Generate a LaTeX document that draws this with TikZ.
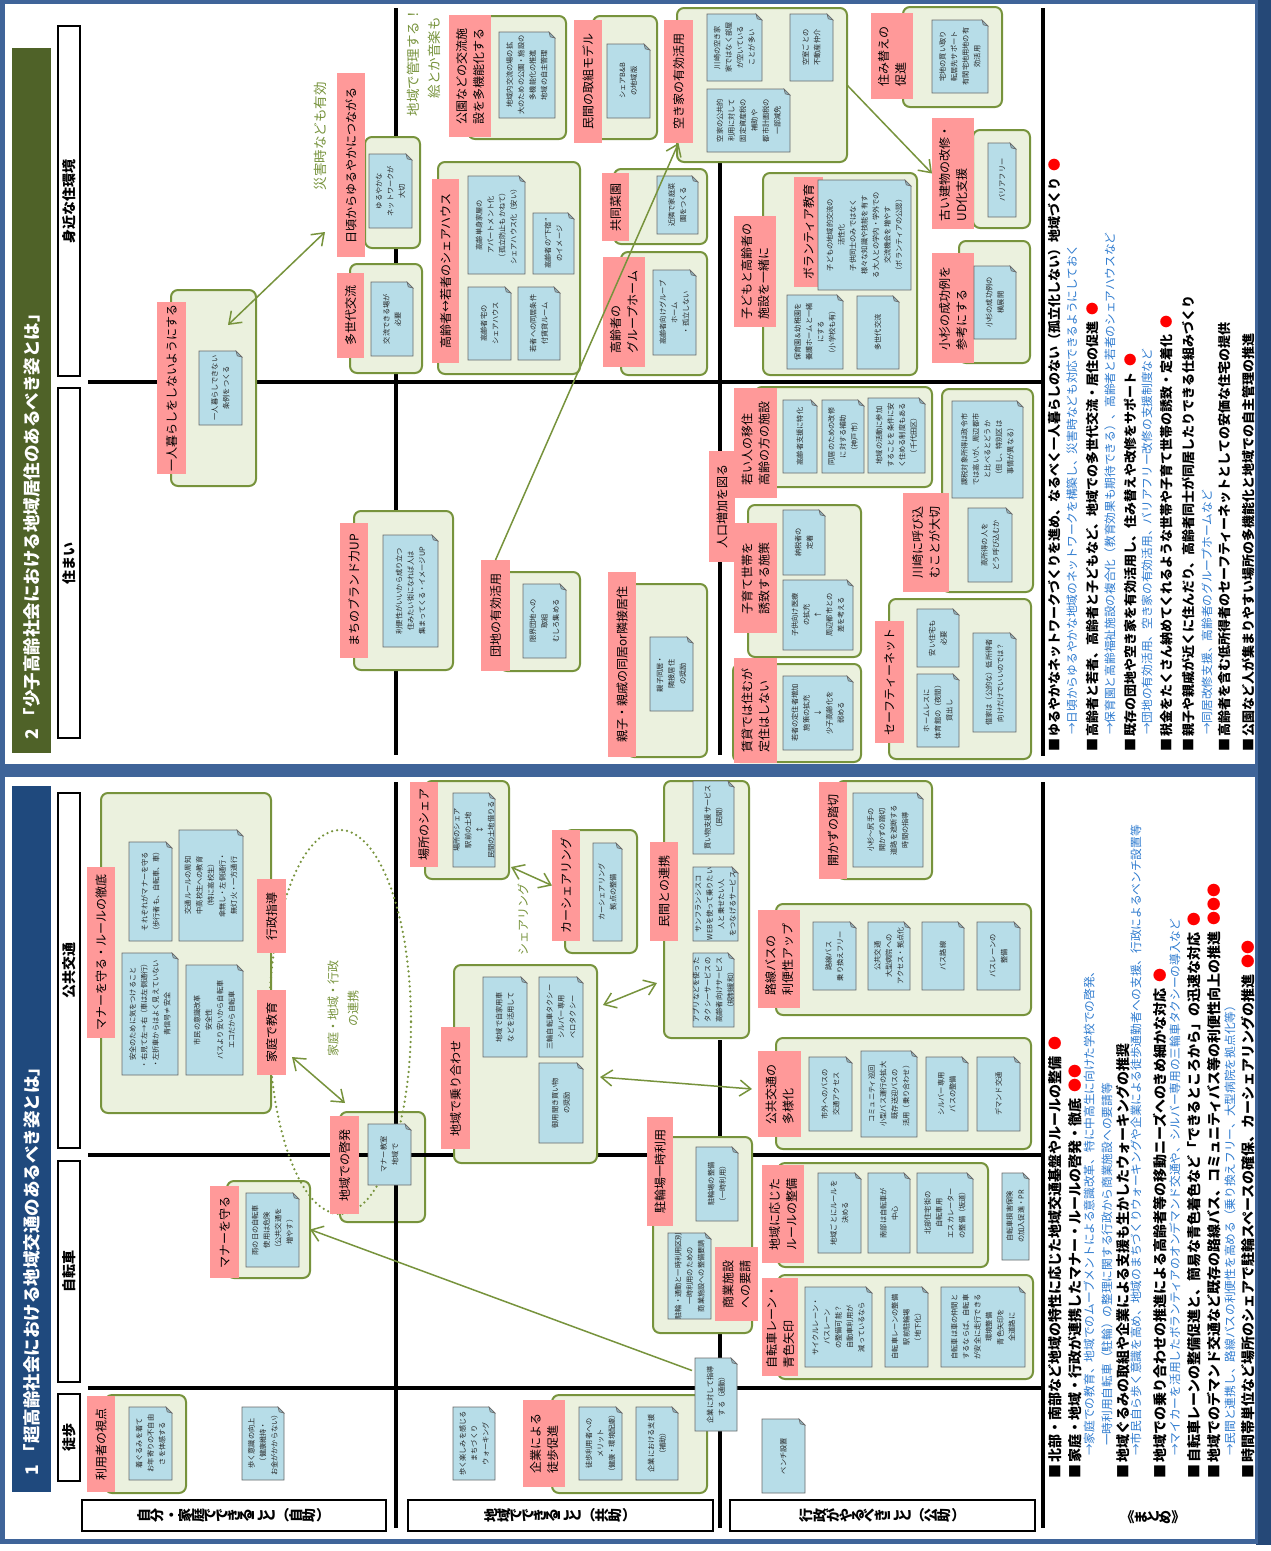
\documentclass[tikz,border=0pt]{standalone}
\usepackage{fontspec}
\setmainfont{Noto Sans CJK JP}
\usepackage{graphicx}
\usetikzlibrary{arrows.meta}

\definecolor{grpfill}{HTML}{EBF1DE}
\definecolor{grpline}{HTML}{77933C}
\definecolor{lblfill}{HTML}{FF9999}
\definecolor{notefill}{HTML}{B7DDE8}
\definecolor{notefold}{HTML}{8FAFB9}
\definecolor{notedraw}{HTML}{6A6A6A}
\definecolor{sumblue}{HTML}{2E7BCF}
\definecolor{barblue}{HTML}{1F497D}
\definecolor{bargreen}{HTML}{4F6228}
\definecolor{frameblue}{HTML}{3F6499}
\definecolor{shadowblue}{HTML}{254877}

% vertical (tategaki) text: every glyph turned, brackets and dashes kept
\ExplSyntaxOn
\NewDocumentCommand \tate { m }
  {
    \tl_map_inline:nn {#1}
      {
        \tl_if_in:nnTF { （）・ー《》 } {##1}
          {##1}
          { \rotatebox[origin=c]{90}{##1} }
      }
  }
\ExplSyntaxOff

\tikzset{
  grp/.style={draw=grpline, fill=grpfill, line width=2pt, rounded corners=7pt, inner sep=0pt, outer sep=0pt},
  lbl/.style={fill=lblfill, inner sep=0pt, outer sep=0pt, align=left, text=black, font=\fontsize{12pt}{17pt}\selectfont},
  ntxt/.style={inner sep=0pt, outer sep=0pt, align=center, text=black!85, font=\fontsize{7.2pt}{11.5pt}\selectfont},
  hdr/.style={draw=black, fill=white, line width=1.2pt, inner sep=0pt, outer sep=0pt, font=\bfseries\fontsize{14pt}{16pt}\selectfont},
  gridline/.style={line width=4pt, black},
  conn/.style={draw=grpline, line width=1.5pt},
  anno/.style={rotate=90, inner sep=0pt, text=grpline, font=\fontsize{13.5pt}{19pt}\selectfont},
  sumhead/.style={rotate=90, anchor=west, inner sep=0pt, font=\bfseries\fontsize{13pt}{14pt}\selectfont},
  sumheadL/.style={sumhead, font=\bfseries\fontsize{14pt}{15pt}\selectfont},
  sumsub/.style={rotate=90, anchor=west, inner sep=0pt, text=sumblue, font=\fontsize{11.7pt}{13pt}\selectfont},
  titletext/.style={rotate=90, anchor=west, inner sep=0pt, text=white, font=\bfseries\fontsize{17.5pt}{19pt}\selectfont},
}

% group box: name, x1, y1, x2, y2
\newcommand\gbox[5]{\node[grp, minimum width={(#4-#2)*1pt}, minimum height={(#5-#3)*1pt}] (#1) at ({(#2+#4)/2},{(#3+#5)/2}) {};}
% pink heading
\newcommand\plabel[6]{\node[lbl, rotate=90, minimum width={(#5-#3)*1pt}, minimum height={(#4-#2)*1pt}] (#1) at ({(#2+#4)/2},{(#3+#5)/2}) {#6};}
% memo card with a folded corner
\newcommand\nbox[6]{%
  \path[fill=notefill, draw=notedraw, line width=0.7pt] (#2,#3) -- ({#4-6},#3) -- (#4,{#3+6}) -- (#4,#5) -- (#2,#5) -- cycle;
  \path[fill=notefold, draw=notedraw, line width=0.6pt] ({#4-6},#3) -- (#4,{#3+6}) -- ({#4-4.8},{#3+4.8}) -- cycle;
  \node[ntxt, rotate=90, minimum width={(#5-#3)*1pt}, minimum height={(#4-#2)*1pt}] (#1) at ({(#2+#4)/2},{(#3+#5)/2}) {#6};}
% column heading
\newcommand\vhead[6]{\node[hdr, rotate=90, minimum width={(#5-#3)*1pt}, minimum height={(#4-#2)*1pt}] (#1) at ({(#2+#4)/2},{(#3+#5)/2}) {#6};}
% row heading (vertical writing)
\newcommand\hhead[6]{\node[hdr, minimum width={(#4-#2)*1pt}, minimum height={(#5-#3)*1pt}] (#1) at ({(#2+#4)/2},{(#3+#5)/2}) {\tate{#6}};}

\begin{document}
\begin{tikzpicture}[x=1pt, y=-1pt, >={Straight Barb[length=11pt,width=16pt]}]
\useasboundingbox (0,0) rectangle (1271,1551);

% ---------- frames ----------
\fill[white] (0,0) rectangle (1271,1551);
\fill[shadowblue] (1256,0) rectangle (1271,1545);
\fill[frameblue] (0,0) rectangle (1258,1544);
\fill[white] (5,4) rectangle (1255,764);
\fill[white] (5,777) rectangle (1255,1539);

% ---------- title bars ----------
\fill[bargreen] (12,48) rectangle (51,753);
\node[titletext] (title2) at (31.5,740) {2\hspace{4pt}「少子高齢社会における地域居住のあるべき姿とは」};
\fill[barblue] (12,786) rectangle (51,1492);
\node[titletext] (title1) at (31.5,1476) {1\hspace{4pt}「超高齢社会における地域交通のあるべき姿とは」};

% ---------- headings ----------
\vhead{hA}{58}{26}{80}{376}{身近な住環境}
\vhead{hB}{58}{388}{80}{738}{住まい}
\vhead{hC}{58}{793}{80}{1148}{公共交通}
\vhead{hD}{58}{1161}{80}{1382}{自転車}
\vhead{hE}{58}{1394}{80}{1481}{徒歩}
\hhead{rA}{82}{1500}{386}{1531}{自分・家庭でできること（自助）}
\hhead{rB}{408}{1500}{713}{1531}{地域でできること（共助）}
\hhead{rC}{730}{1500}{1035}{1531}{行政がやるべきこと（公助）}

% group lying under the grid
\gbox{gBB}{340}{1112}{425}{1222}

% ---------- grid ----------
\draw[gridline] (88,382) -- (1042,382);
\draw[gridline] (396,8) -- (396,755);
\draw[gridline] (720,163) -- (720,755);
\draw[gridline] (1043,8) -- (1043,756);
\draw[gridline] (88,1155) -- (1043,1155);
\draw[gridline] (88,1388) -- (1043,1388);
\draw[gridline] (396,782) -- (396,1528);
\draw[gridline] (720,1040) -- (720,1528);
\draw[gridline] (1043,782) -- (1043,1528);

% ---------- groups, panel 2 ----------
\gbox{gA}{171}{290}{256}{486}
\gbox{gB}{365}{137}{420}{248}
\gbox{gC}{350}{264}{422}{373}
\gbox{gD}{438}{162}{580}{374}
\gbox{gE}{468}{16}{566}{139}
\gbox{gF}{593}{16}{657}{139}
\gbox{gG}{677}{8}{847}{162}
\gbox{gH}{614}{169}{707}{244}
\gbox{gI}{621}{252}{707}{375}
\gbox{gJ}{763}{173}{917}{375}
\gbox{gK}{903}{7}{1002}{107}
\gbox{gL}{973}{130}{1030}{228}
\gbox{gM}{959}{241}{1030}{363}
\gbox{gN}{354}{511}{453}{670}
\gbox{gO}{500}{572}{580}{671}
\gbox{gP}{627}{584}{707}{757}
\gbox{gQ}{755}{387}{932}{487}
\gbox{gR}{748}{505}{861}{657}
\gbox{gS}{733}{664}{861}{762}
\gbox{gT}{942}{389}{1033}{592}
\gbox{gU}{889}{599}{1031}{759}

% ---------- groups, panel 1 ----------
\gbox{gAA}{101}{793}{271}{1113}
\gbox{gCC}{227}{1181}{310}{1278}
\gbox{gDD}{105}{1395}{186}{1493}
\gbox{gEE}{552}{1395}{707}{1493}
\gbox{gFF}{454}{965}{597}{1163}
\gbox{gGG}{425}{781}{509}{879}
\gbox{gHH}{565}{830}{637}{953}
\gbox{gII}{664}{781}{749}{1038}
\gbox{gJJ}{837}{781}{932}{879}
\gbox{gKK}{776}{904}{1031}{1015}
\gbox{gLL}{776}{1038}{1031}{1149}
\gbox{gMM}{653}{1137}{752}{1333}
\gbox{gNN}{778}{1163}{988}{1267}
\gbox{gOO}{778}{1275}{1033}{1379}

% dotted ring: family, community and city working together
\draw[grpline, line width=2.5pt, dash pattern=on 0pt off 5pt, line cap=round] (340,1022) ellipse [x radius=71, y radius=192];

% ---------- pink headings, panel 2 ----------
\plabel{lA}{157}{302}{186}{474}{一人暮らしをしないようにする}
\plabel{lB}{337}{73}{365}{257}{日頃からゆるやかにつながる}
\plabel{lC}{337}{273}{364}{358}{多世代交流}
\plabel{lD}{432}{179}{459}{363}{高齢者↔若者のシェアハウス}
\plabel{lE}{449}{15}{491}{137}{公園などの交流施\\設を多機能化する}
\plabel{lF}{574}{20}{602}{143}{民間の取組モデル}
\plabel{lG}{664}{20}{693}{143}{空き家の有効活用}
\plabel{lH}{602}{173}{629}{241}{共同菜園}
\plabel{lI}{603}{257}{645}{367}{高齢者の\\グループホーム}
\plabel{lJ}{734}{216}{776}{327}{子どもと高齢者の\\施設を一緒に}
\plabel{lJv}{794}{177}{823}{287}{ボランティア教育}
\plabel{lK}{871}{13}{913}{99}{住み替えの\\促進}
\plabel{lL}{932}{118}{974}{229}{古い建物の改修・\\UD化支援}
\plabel{lM}{932}{253}{974}{363}{小杉の成功例を\\参考にする}
\plabel{lN}{340}{523}{368}{658}{まちのブランド力UP}
\plabel{lO}{481}{560}{510}{671}{団地の有効活用}
\plabel{lP}{608}{572}{636}{757}{親子・親戚の同居or隣接居住}
\plabel{lPop}{709}{451}{735}{562}{人口増加を図る}
\plabel{lQ}{734}{388}{777}{498}{若い人の移住\\高齢の方の施設}
\plabel{lR}{734}{523}{777}{633}{子育て世帯を\\誘致する施策}
\plabel{lS}{734}{658}{777}{763}{賃貸では住むが\\定住はしない}
\plabel{lT}{903}{493}{949}{592}{川崎に呼び込\\むことが大切}
\plabel{lU}{875}{621}{904}{743}{セーフティーネット}

% ---------- pink headings, panel 1 ----------
\plabel{lAA}{87}{867}{115}{1038}{マナーを守る・ルールの徹底}
\plabel{lGov}{257}{879}{286}{953}{行政指導}
\plabel{lHome}{257}{990}{286}{1075}{家庭で教育}
\plabel{lBB}{330}{1116}{359}{1214}{地域での啓発}
\plabel{lCC}{210}{1186}{239}{1278}{マナーを守る}
\plabel{lDD}{87}{1396}{115}{1492}{利用者の視点}
\plabel{lEE}{523}{1400}{565}{1487}{企業による\\徒歩促進}
\plabel{lFF}{441}{1027}{470}{1149}{地域で乗り合わせ}
\plabel{lGG}{410}{782}{438}{867}{場所のシェア}
\plabel{lHH}{552}{830}{580}{941}{カーシェアリング}
\plabel{lII}{650}{842}{678}{941}{民間との連携}
\plabel{lJJ}{819}{782}{847}{879}{開かずの踏切}
\plabel{lKK}{758}{910}{800}{1008}{路線バスの\\利便性アップ}
\plabel{lLL}{758}{1051}{801}{1137}{公共交通の\\多様化}
\plabel{lMM}{647}{1117}{673}{1226}{駐輪場一時利用}
\plabel{lMMb}{715}{1247}{758}{1321}{商業施設\\への要請}
\plabel{lNN}{762}{1165}{804}{1263}{地域に応じた\\ルールの整備}
\plabel{lOO}{762}{1278}{798}{1376}{自転車レーン・\\青色矢印}

% ---------- memo cards, panel 2 ----------
\nbox{n1}{199}{351}{242}{425}{一人暮らしできない\\条例をつくる}
\nbox{n2}{369}{154}{412}{228}{ゆるやかな\\ネットワークが\\大切}
\nbox{n3}{371}{282}{413}{356}{交流できる場が\\必要}
\nbox{n4}{468}{176}{525}{274}{高齢単身家屋の\\アパートメント化\\（孤立防止もかねて）\\シェアハウス化（安い）}
\nbox{n5}{533}{213}{574}{274}{高齢者の“下宿”\\のイメージ}
\nbox{n6}{468}{287}{511}{360}{高齢者宅の\\シェアハウス}
\nbox{n7}{518}{287}{560}{360}{若者への同居条件\\付賃貸ルーム}
\nbox{n8}{499}{32}{555}{118}{地域内交流の場の拡\\大のための公園・施設の\\多機能化の推進\\地域の自主管理}
\nbox{n9}{607}{44}{650}{118}{シェアB\&B\\の地域版}
\nbox{n10}{707}{14}{762}{81}{川崎の空き家\\家ではなく部屋\\が空いている\\ことが多い}
\nbox{n11}{790}{14}{833}{81}{空室ごとの\\不動産仲介}
\nbox{n12}{707}{89}{790}{152}{空家の公共的\\利用に対して\\固定資産税の\\補助や\\都市計画税の\\一部減免}
\nbox{n13}{657}{176}{698}{234}{近隣で家庭菜\\園をつくる}
\nbox{n14}{653}{270}{696}{355}{高齢者向けグループ\\ホーム\\・孤立しない}
\nbox{n15}{818}{180}{911}{290}{子どもの地域的交流の\\活性化\\子供同士のみではなく\\様々な知識や技能を有す\\る大人との学内・学外での\\交流機会を増やす\\（ボランティアの公認）}
\nbox{n16}{787}{295}{843}{369}{保育園＆幼稚園を\\養護ホームと一緒\\にする\\（小学校も有）}
\nbox{n17}{857}{296}{899}{369}{多世代交流}
\nbox{n18}{932}{20}{988}{93}{宅地の買い取り\\転居先サポート\\有閑宅地用地の有\\効活用}
\nbox{n19}{988}{143}{1016}{217}{バリアフリー}
\nbox{n20}{974}{266}{1016}{339}{小杉の成功例の\\横展開}
\nbox{n21}{383}{535}{438}{647}{利便性がいいから成り立つ\\住みたい街になれば人は\\集まってくる・イメージUP}
\nbox{n22}{523}{584}{566}{658}{限界団地への\\取組\\むしろ集める}
\nbox{n23}{650}{637}{693}{711}{親子同居・\\隣接居住\\の奨励}
\nbox{n24}{783}{400}{817}{473}{高齢者支援に特化}
\nbox{n25}{822}{400}{864}{473}{同居のための改修\\に対する補助\\（神戸市）}
\nbox{n26}{868}{398}{925}{473}{地域の活動に参加\\することを条件に安\\く住める制度もある\\（千代田区）}
\nbox{n27}{783}{510}{825}{575}{納税者の\\定着}
\nbox{n28}{783}{580}{853}{650}{子供向け医療\\の拡充\\↑\\周辺都市との\\差を考える}
\nbox{n29}{783}{676}{853}{750}{若者の定住者増加\\施策の拡充\\↓\\少子高齢化を\\弱める}
\nbox{n30}{952}{401}{1023}{498}{課税対象所得は政令市\\では高いが、周辺都市\\と比べるとどうか\\（但し、特別区は\\事情が異なる）}
\nbox{n31}{968}{508}{1012}{582}{高所得の人を\\どう呼び込むか}
\nbox{n32}{917}{609}{959}{667}{安い住宅も\\必要}
\nbox{n33}{917}{674}{959}{747}{ホームレスに\\体育館の（夜間）\\貸出し}
\nbox{n34}{973}{633}{1016}{732}{借家は（公的な）低所得者\\向けだけでいいのでは？}

% ---------- memo cards, panel 1 ----------
\nbox{m1}{129}{842}{172}{941}{それぞれがマナーを守る\\（歩行者も、自転車、車）}
\nbox{m2}{179}{830}{243}{941}{交通ルールの周知\\中高校生への教育\\（特に高校生）\\傘無し・左側通行・\\無灯火・一方通行}
\nbox{m3}{122}{953}{178}{1075}{安全のために気をつけること\\・右見て左→右（車は左側通行）\\・左折車からはよく見えていない\\青信号≠安全}
\nbox{m4}{186}{965}{243}{1075}{市民の意識改革\\安全性\\バスより安いから自転車\\エコだから自転車}
\nbox{m5}{368}{1124}{411}{1185}{マナー教室\\地域で}
\nbox{m6}{246}{1193}{299}{1267}{雨の日の自転車\\使用は危険\\（公共交通を\\増やす）}
\nbox{m7}{129}{1407}{172}{1480}{着ぐるみを着て\\お年寄りの不自由\\さを体感する}
\nbox{m8}{242}{1407}{284}{1480}{歩く意識の向上\\（健康維持・\\お金がかからない）}
\nbox{m9}{453}{1407}{495}{1480}{歩く楽しみを感じる\\まちづくり\\ウォーキング}
\nbox{m10}{579}{1407}{622}{1480}{徒歩利用者への\\メリット\\（健康・環境配慮）}
\nbox{m11}{636}{1407}{678}{1480}{企業における支援\\（補助）}
\nbox{m12}{695}{1358}{737}{1431}{企業に対して指導\\する（通勤）}
\nbox{m13}{762}{1419}{805}{1493}{ベンチ設置}
\nbox{m14}{483}{977}{527}{1057}{地域で自家用車\\などを活用して}
\nbox{m15}{539}{977}{583}{1057}{三輪自転車タクシー\\シルバー専用\\ベロタクシー}
\nbox{m16}{539}{1063}{583}{1143}{御用聞き買い物\\の奨励}
\nbox{m17}{453}{793}{495}{867}{場所のシェア\\駅前の土地\\↕\\民間の土地借りる}
\nbox{m18}{593}{843}{622}{941}{カーシェアリング\\拠点の整備}
\nbox{m19}{693}{781}{734}{854}{買い物支援サービス\\（民間）}
\nbox{m20}{693}{867}{738}{941}{サンフランシスコ\\WEBを使って乗りたい\\人と乗せたい人\\をつなげるサービス}
\nbox{m21}{693}{953}{734}{1027}{アプリなどを使った\\タクシーサービスの\\高齢者向けサービス\\（規制緩和）}
\nbox{m22}{853}{793}{923}{867}{小杉～尻手の\\開かずの踏切\\道路を遮断する\\時間の指導}
\nbox{m23}{813}{922}{856}{990}{路線バス\\乗り換えフリー}
\nbox{m24}{868}{922}{910}{990}{公共交通\\大型病院への\\アクセス・拠点化}
\nbox{m25}{922}{922}{964}{990}{バス路線}
\nbox{m26}{977}{922}{1020}{990}{バスレーンの\\整備}
\nbox{m27}{809}{1057}{852}{1131}{市外へのバスの\\交通アクセス}
\nbox{m28}{861}{1051}{917}{1137}{コミュニティ巡回\\小型バス運行の拡大\\既存送迎バスの\\活用（乗り合わせ）}
\nbox{m29}{926}{1057}{968}{1131}{シルバー専用\\バスの整備}
\nbox{m30}{977}{1057}{1020}{1131}{デマンド交通}
\nbox{m31}{696}{1147}{738}{1221}{駐輪場の整備\\（一時利用）}
\nbox{m32}{668}{1233}{711}{1319}{駐輪・通勤と一時利用区別\\一時利用のための\\商業施設への整備要請}
\nbox{m33}{818}{1173}{861}{1253}{地域ごとにルールを\\決める}
\nbox{m34}{868}{1173}{910}{1253}{南部は自転車が\\中心}
\nbox{m35}{917}{1173}{973}{1253}{北部住宅街の\\自転車用\\エスカレーター\\の整備（坂道）}
\nbox{m36}{1002}{1173}{1029}{1260}{自転車損害保険\\の加入促進・PR}
\nbox{m37}{805}{1287}{872}{1367}{サイクルレーン・\\バスレーン\\の整備可能？\\自動車利用が\\減っているなら}
\nbox{m38}{885}{1287}{928}{1367}{自転車レーンの整備\\駅前駐輪場\\（地下化）}
\nbox{m39}{941}{1287}{1025}{1367}{自転車は車の仲間と\\するならば、自転車\\が安全に走行できる\\環境整備\\青色矢印を\\全道路に}

% ---------- connectors ----------
\draw[conn,<->] ([shift={(57,35)}]gA.north west) -- ([shift={(-40,-16)}]gB.south west);
\draw[conn,->] (lO.east) -- (lG.west);
\draw[conn,->] (gG.east) -- (lL.north);
\draw[conn,<->] ([shift={(6,-18)}]lHome.south west) -- ([shift={(5,-9)}]gBB.north west);
\draw[conn,<->] ([shift={(2,-12)}]gGG.south east) -- (lHH.north);
\draw[conn,<->] ([shift={(6,40)}]gFF.north east) -- ([shift={(-7,-55)}]gII.south west);
\draw[conn,<->] ([shift={(3,13)}]gFF.east) -- ([shift={(-6,-5)}]lLL.north);
\draw[conn,->] ([shift={(-3,-24)}]m12.north) -- (gCC.east);

% ---------- free comments ----------
\node[anno] (aSaigai) at (320,136) {災害時なども有効};
\node[anno, anchor=east] (aKanri) at (413,8) {地域で管理する！};
\node[anno, anchor=east] (aEnongaku) at (434,17) {絵とか音楽も};
\node[anno, align=center, font=\fontsize{12pt}{20pt}\selectfont] (aRenkei) at (343,1008) {家庭・地域・行政\\の連携};
\node[anno, font=\fontsize{12pt}{14pt}\selectfont] (aShare) at (523,919) {シェアリング};

% ---------- summary, panel 2 ----------
\node[sumhead] (s1) at (1055,752) {■\,ゆるやかなネットワークづくりを進め、なるべく一人暮らしのない（孤立化しない）地域づくり\hspace{6pt}{\color{red}●}};
\node[sumsub] (s2) at (1072,735) {→日頃からゆるやかな地域のネットワークを構築し、災害時なども対応できるようにしておく};
\node[sumhead] (s3) at (1093,752) {■\,高齢者と若者、高齢者と子どもなど、地域での多世代交流・居住の促進\hspace{6pt}{\color{red}●}};
\node[sumsub] (s4) at (1110,735) {→保育園と高齢福祉施設の複合化（教育効果も期待できる）、高齢者と若者のシェアハウスなど};
\node[sumhead] (s5) at (1130,752) {■\,既存の団地や空き家を有効活用し、住み替えや改修をサポート\hspace{6pt}{\color{red}●}};
\node[sumsub] (s6) at (1147,735) {→団地の有効活用、空き家の有効活用、バリアフリー改修の支援制度など};
\node[sumhead] (s7) at (1167,752) {■\,税金をたくさん納めてくれるような世帯や子育て世帯の誘致・定着化\hspace{6pt}{\color{red}●}};
\node[sumhead] (s8) at (1188,752) {■\,親子や親戚が近くに住んだり、高齢者同士が同居したりできる仕組みづくり};
\node[sumsub] (s9) at (1207,735) {→同居改修支援、高齢者のグループホームなど};
\node[sumhead] (s10) at (1225,752) {■\,高齢者を含む低所得者のセーフティーネットとしての安価な住宅の提供};
\node[sumhead] (s11) at (1248,752) {■\,公園など人が集まりやすい場所の多機能化と地域での自主管理の推進};

% ---------- summary, panel 1 ----------
\node[sumheadL] (t1) at (1055,1479) {■\,北部・南部など地域の特性に応じた地域交通基盤やルールの整備\hspace{6pt}{\color{red}●}};
\node[sumheadL] (t2) at (1075,1479) {■\,家庭・地域・行政が連携したマナー・ルールの啓発・徹底\hspace{6pt}{\color{red}●●}};
\node[sumsub] (t3) at (1089,1456) {→家庭での教育、地域でのムーブメントによる意識改革、特に中高生に向けた学校での啓発、};
\node[sumsub] (t4) at (1107,1446) {一時利用自転車（駐輪）の整理に関する行政から商業施設への要請等};
\node[sumheadL] (t5) at (1123,1479) {■\,地域ぐるみの取組や企業による支援も生かしたウォーキングの推奨};
\node[sumsub] (t6) at (1136,1456) {→市民自ら歩く意識を高め、地域のまちづくりウォーキングや企業による徒歩通勤者への支援、行政によるベンチ設置等};
\node[sumheadL] (t7) at (1160,1479) {■\,地域での乗り合わせの推進による高齢者等の移動ニーズへのきめ細かな対応\hspace{6pt}{\color{red}●}};
\node[sumsub] (t8) at (1175,1456) {→マイカーを活用したボランティアのオンデマンド交通や、シルバー専用の三輪車タクシーの導入など};
\node[sumheadL] (t9) at (1194,1479) {■\,自転車レーンの整備促進と、簡易な青色着色など「できるところから」の迅速な対応\hspace{6pt}{\color{red}●}};
\node[sumheadL] (t10) at (1214,1479) {■\,地域でのデマンド交通など既存の路線バス、コミュニティバス等の利便性向上の推進\hspace{6pt}{\color{red}●●●}};
\node[sumsub] (t11) at (1230,1456) {→民間と連携し、路線バスの利便性を高める（乗り換えフリー、大型病院を拠点化等）};
\node[sumheadL] (t12) at (1248,1479) {■\,時間帯単位など場所のシェアで駐輪スペースの確保、カーシェアリングの推進\hspace{6pt}{\color{red}●●}};

\node[inner sep=0pt, font=\bfseries\fontsize{14pt}{16pt}\selectfont] (matome) at (1153,1517) {\tate{《まとめ》}};

\end{tikzpicture}
\end{document}
